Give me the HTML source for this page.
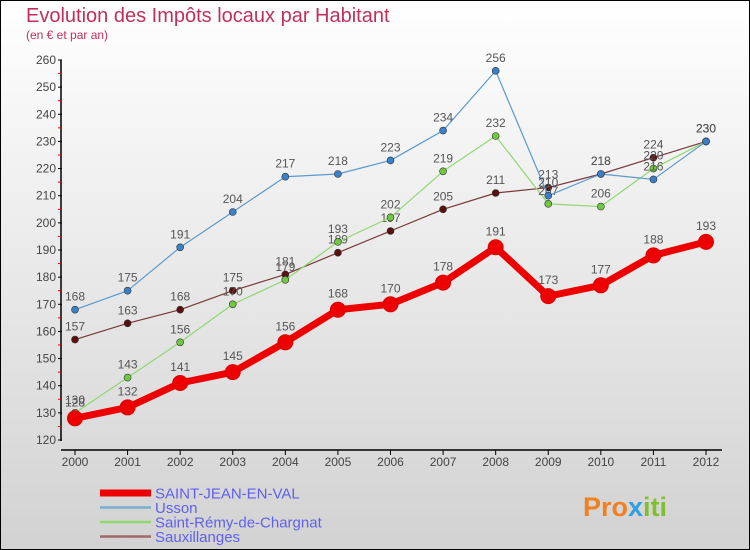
<!DOCTYPE html>
<html><head><meta charset="utf-8"><style>
body{margin:0;}
svg{display:block;font-family:"Liberation Sans",sans-serif;}
</style></head><body>
<svg id="c" width="750" height="550">
<defs><linearGradient id="bg" x1="0" y1="0" x2="0" y2="1"><stop offset="0" stop-color="#ffffff"/><stop offset="1" stop-color="#d2d2d2"/></linearGradient></defs>
<rect x="0.5" y="0.5" width="749" height="549" fill="url(#bg)" stroke="#000"/>
<text x="26" y="22" font-size="20" fill="#c0305a">Evolution des Impôts locaux par Habitant</text>
<text x="26" y="39" font-size="12" fill="#c0305a">(en € et par an)</text>
<g id="axes"></g><g id="series"></g><g id="legend"></g>
<text x="583" y="516" font-size="27" font-weight="bold" fill="#f08020">Pro<tspan fill="#30a0e0">x</tspan><tspan fill="#80c030">iti</tspan></text>
</svg>
<script>
const years=[2000,2001,2002,2003,2004,2005,2006,2007,2008,2009,2010,2011,2012];
const yTicks=[120,130,140,150,160,170,180,190,200,210,220,230,240,250,260];
const names=["SAINT-JEAN-EN-VAL","Usson","Saint-Rémy-de-Chargnat","Sauxillanges"];
const sjev=[128,132,141,145,156,168,170,178,191,173,177,188,193];
const usson=[168,175,191,204,217,218,223,234,256,210,218,216,230];
const srdc=[130,143,156,170,179,193,202,219,232,207,206,220,230];
const saux=[157,163,168,175,181,189,197,205,211,213,218,224,230];
const NS="http://www.w3.org/2000/svg";
function x(i){return 75+i*(706-75)/12;}
function y(v){return 440-(v-120)*(380/140);}
function mk(p,t,a){const e=document.createElementNS(NS,t);for(const k in a)e.setAttribute(k,a[k]);p.appendChild(e);return e;}
const ax=document.getElementById('axes');
let l=mk(ax,'line',{x1:61,y1:60,x2:61,y2:441,stroke:'#000','stroke-width':1.5});


l=mk(ax,'line',{x1:61,y1:450,x2:722,y2:450,stroke:'#000','stroke-width':1.5});


yTicks.forEach((v,i)=>{
  mk(ax,'line',{x1:58,y1:y(v),x2:62,y2:y(v),stroke:'#000'});
  if(i<yTicks.length-1)mk(ax,'line',{x1:58,y1:y(v+5),x2:61,y2:y(v+5),stroke:'#e00'});
  const t=mk(ax,'text',{x:56,y:y(v)+4,'font-size':12,fill:'#444','text-anchor':'end'});t.textContent=v;
  
  
});
years.forEach((yr,i)=>{
  mk(ax,'line',{x1:x(i),y1:450,x2:x(i),y2:455,stroke:'#000'});
  const t=mk(ax,'text',{x:x(i),y:466,'font-size':12,fill:'#444','text-anchor':'middle'});t.textContent=yr;
  
  
});
const sg=document.getElementById('series');
const defs=[[saux,'#7a3838','#5a1010',1.2,3.5,'sauxillanges'],[srdc,'#90d870','#70c840',1.2,3.5,'saint-remy-de-chargnat'],[usson,'#5a9ad0','#3a80c8',1.2,3.5,'usson'],[sjev,'#ee0000','#ee0000',7,7.5,'saint-jean-en-val']];
defs.forEach(([d,c,dc,w,r,n])=>{
  const g=mk(sg,'g',{});
  
  
  const p=mk(g,'polyline',{points:d.map((v,i)=>x(i)+','+y(v)).join(' '),fill:'none',stroke:c,'stroke-width':w,'stroke-linejoin':'round'});
  
  
  d.forEach((v,i)=>{
    const pt=mk(g,'circle',{cx:x(i),cy:y(v),r:r,fill:dc,stroke:w>2?'#d00':'#333','stroke-width':w>2?1:0.6});
    
    
    const t=mk(g,'text',{x:x(i),y:y(v)-(w>2?12:9),'font-size':12,fill:'#555','text-anchor':'middle'});t.textContent=v;
    
    
  });
});
const lg=document.getElementById('legend');
const lc=['#ee0000','#7aaed0','#90d870','#a06868'],lw=[7,2.5,2.5,2.5];
names.forEach((n,i)=>{
  const yy=493+i*14.5;
  const g=mk(lg,'g',{});
  
  
  mk(g,'line',{x1:100,y1:yy,x2:151,y2:yy,stroke:lc[i],'stroke-width':lw[i]});
  const t=mk(g,'text',{x:155,y:yy+5.5,'font-size':15,fill:'#6060f0'});t.textContent=n;
});
</script>
</body></html>
